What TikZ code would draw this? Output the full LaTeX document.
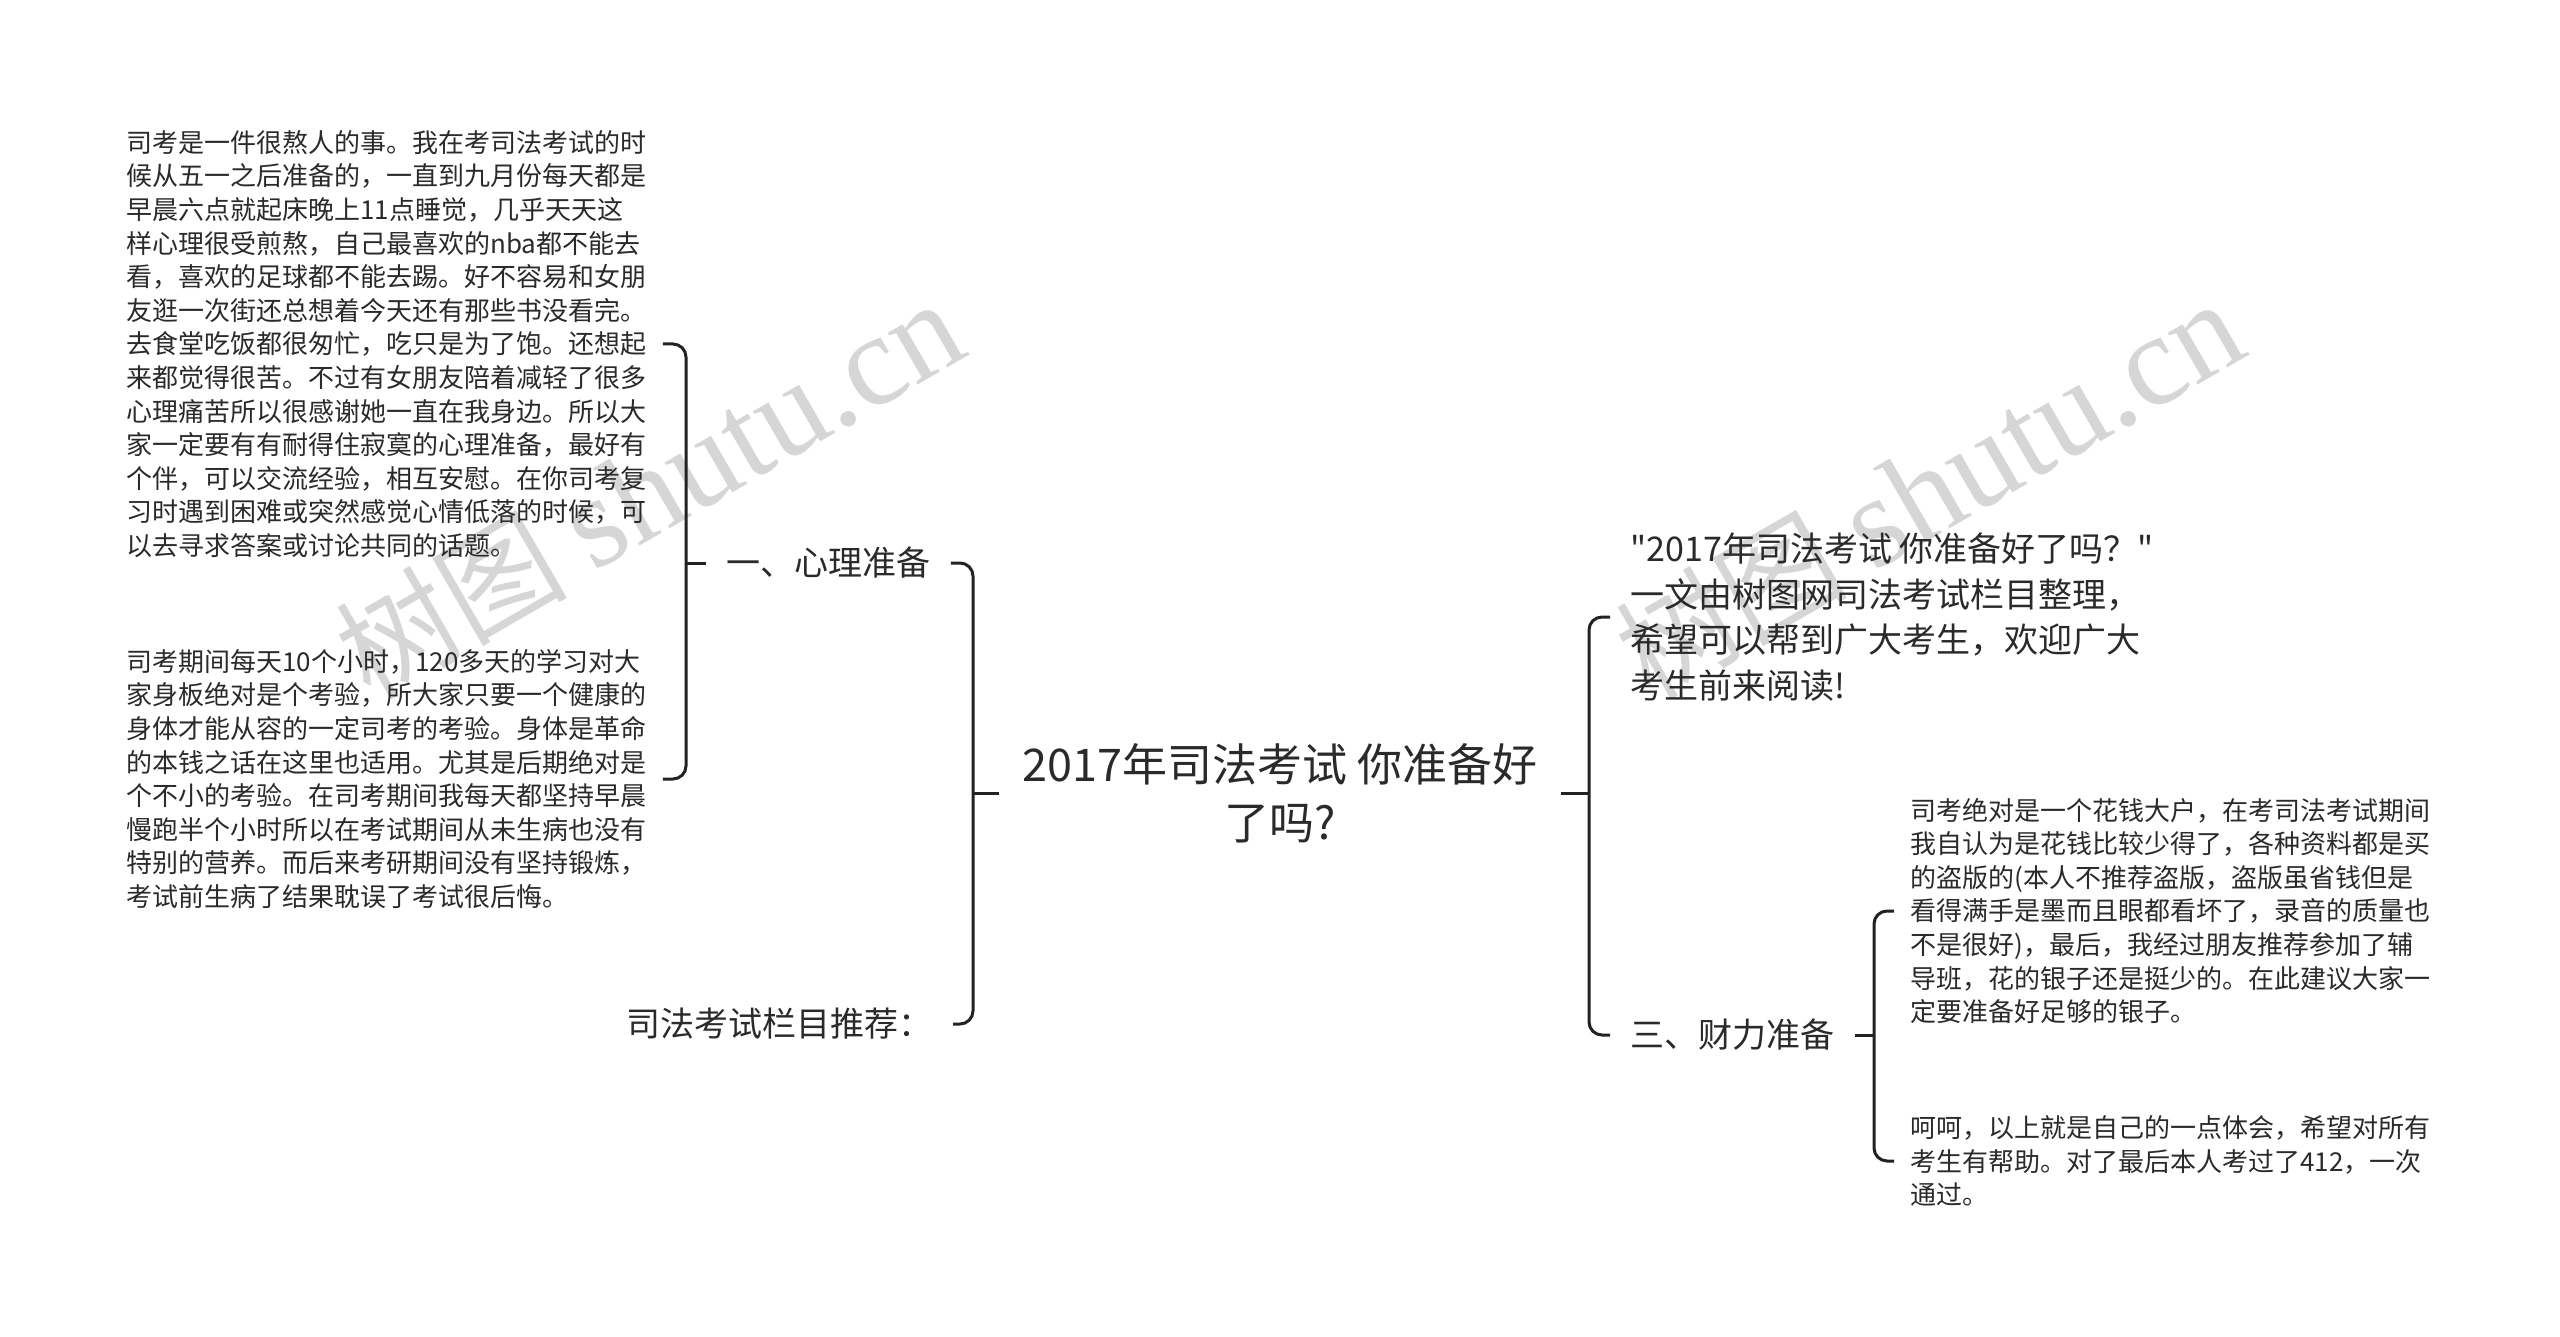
\documentclass[tikz,border=0pt]{standalone}
\usepackage{fontspec}
\setmainfont{Noto Sans CJK SC}
\newfontfamily\qfont{Noto Sans CJK SC}
\newfontfamily\wmserif{Liberation Serif}
\newfontfamily\wmcjk{Noto Sans CJK SC}
\definecolor{textc}{HTML}{2A2A2A}
\definecolor{linec}{HTML}{222222}
\definecolor{wmc}{HTML}{D6D6D6}
\begin{document}
\begin{tikzpicture}[x=0.5pt,y=-0.5pt,
  conn/.style={draw=linec, line width=1.5pt, rounded corners=6.5pt},
  para/.style={font=\fontsize{13}{16.8}\selectfont, text=textc, align=left, inner xsep=8pt, inner ysep=0pt},
  lvl/.style={font=\fontsize{17}{22.85}\selectfont, text=textc, align=left, inner xsep=10pt, inner ysep=0pt},
  rootn/.style={font=\fontsize{22.5}{29}\selectfont, text=textc, align=center, inner xsep=11.5pt, inner ysep=0pt},
  wm/.style={text=wmc, rotate=30, inner sep=0pt}]
\fill[white] (0,0) rectangle (2560,1337);
\useasboundingbox (0,0) rectangle (2560,1337);
% watermarks
\node[wm] (wm1) at (649,490) {\fontsize{58}{60}\wmcjk 树图 \fontsize{65}{70}\wmserif shutu.cn};
\node[wm] (wm2) at (1929,490) {\fontsize{58}{60}\wmcjk 树图 \fontsize{65}{70}\wmserif shutu.cn};
% root
\node[rootn] (root) at (1280,793) {2017年司法考试 你准备好\\了吗?};
% left side
\node[lvl, anchor=west] (xinli) at (706,563) {一、心理准备};
\node[lvl, anchor=east] (tuijian) at (953,1024) {司法考试栏目推荐：};
\node[para, anchor=west] (b1) at (110,344) {司考是一件很熬人的事。我在考司法考试的时\\候从五一之后准备的，一直到九月份每天都是\\早晨六点就起床晚上11点睡觉，几乎天天这\\样心理很受煎熬，自己最喜欢的nba都不能去\\看，喜欢的足球都不能去踢。好不容易和女朋\\友逛一次街还总想着今天还有那些书没看完。\\去食堂吃饭都很匆忙，吃只是为了饱。还想起\\来都觉得很苦。不过有女朋友陪着减轻了很多\\心理痛苦所以很感谢她一直在我身边。所以大\\家一定要有有耐得住寂寞的心理准备，最好有\\个伴，可以交流经验，相互安慰。在你司考复\\习时遇到困难或突然感觉心情低落的时候，可\\以去寻求答案或讨论共同的话题。};
\node[para, anchor=west] (b2) at (110,779) {司考期间每天10个小时，120多天的学习对大\\家身板绝对是个考验，所大家只要一个健康的\\身体才能从容的一定司考的考验。身体是革命\\的本钱之话在这里也适用。尤其是后期绝对是\\个不小的考验。在司考期间我每天都坚持早晨\\慢跑半个小时所以在考试期间从未生病也没有\\特别的营养。而后来考研期间没有坚持锻炼，\\考试前生病了结果耽误了考试很后悔。};
% right side
\node[lvl, anchor=west] (intro) at (1610,617) {\qfont "2017年司法考试 你准备好了吗？"\\\qfont 一文由树图网司法考试栏目整理，\\\qfont 希望可以帮到广大考生，欢迎广大\\\qfont 考生前来阅读!};
\node[lvl, anchor=west] (caili) at (1610,1035) {三、财力准备};
\node[para, anchor=west] (b3) at (1894,911) {司考绝对是一个花钱大户，在考司法考试期间\\我自认为是花钱比较少得了，各种资料都是买\\的盗版的(本人不推荐盗版，盗版虽省钱但是\\看得满手是墨而且眼都看坏了，录音的质量也\\不是很好)，最后，我经过朋友推荐参加了辅\\导班，花的银子还是挺少的。在此建议大家一\\定要准备好足够的银子。};
\node[para, anchor=west] (b4) at (1894,1161) {呵呵，以上就是自己的一点体会，希望对所有\\考生有帮助。对了最后本人考过了412，一次\\通过。};
% junctions
\coordinate (jL) at (973,793);
\coordinate (jX) at (686,563);
\coordinate (jR) at (1589,793);
\coordinate (jC) at (1874,1035);
% connectors
\draw[conn] (root.west) -- (jL);
\draw[conn] (xinli.east) -| (jL) |- (tuijian.east);
\draw[conn] (xinli.west) -- (jX);
\draw[conn] (b1.east) -| (jX) |- (b2.east);
\draw[conn] (root.east) -- (jR);
\draw[conn] (intro.west) -| (jR) |- (caili.west);
\draw[conn] (caili.east) -- (jC);
\draw[conn] (b3.west) -| (jC) |- (b4.west);
\end{tikzpicture}
\end{document}
